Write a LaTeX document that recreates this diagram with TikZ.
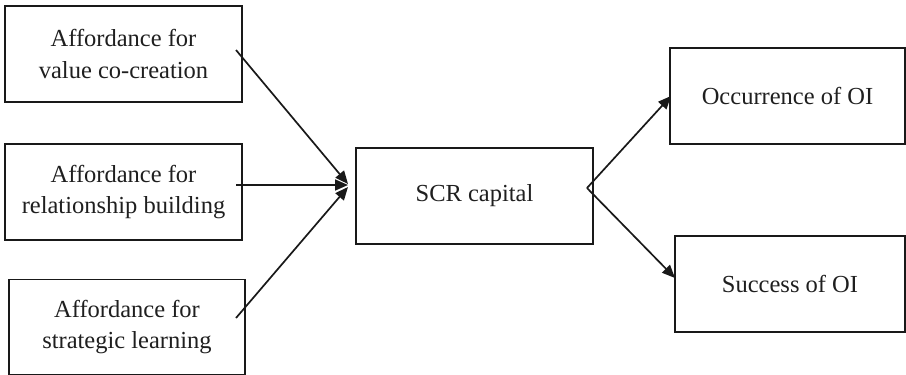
\documentclass[tikz,border=0pt]{standalone}
\usepackage{fontspec}
\setmainfont{Liberation Serif}
\usetikzlibrary{arrows.meta}
\begin{document}
\begin{tikzpicture}[x=1pt,y=-1pt,
  box/.style={draw=black!90,line width=1.7pt,rectangle,inner sep=0pt,align=center,
    font=\fontsize{24.5}{31.5}\selectfont,text=black!88},
  conn/.style={line width=1.7pt,draw=black!90,-{Triangle[length=13pt,width=11pt]}}]
\useasboundingbox (0,0) rectangle (906,375);
% left boxes
\node[box,minimum width=237pt,minimum height=96pt] (a1) at (123.5,54) {Affordance for\\value co-creation};
\node[box,minimum width=237pt,minimum height=96pt] (a2) at (123.5,192) {Affordance for\\relationship building};
\node[box,minimum width=236pt,minimum height=95pt] (a3) at (127,327) {Affordance for\\strategic learning};
% centre
\node[box,minimum width=237pt,minimum height=96pt] (scr) at (474.5,196) {SCR capital};
% right boxes
\node[box,minimum width=235pt,minimum height=96pt] (occ) at (787.5,96) {Occurrence of OI};
\node[box,minimum width=230pt,minimum height=96pt] (suc) at (790,284) {Success of OI};
% connector end points
\coordinate (s1) at (236,50);
\coordinate (s2) at (236,185);
\coordinate (s3) at (236,318);
\coordinate (t1) at (348,184);
\coordinate (t2) at (348,185);
\coordinate (t3) at (348,187);
\coordinate (fork) at (587,188);
\coordinate (to) at (671,96);
\coordinate (ts) at (675,278);
\draw[conn] (s1) -- (t1);
\draw[conn] (s2) -- (t2);
\draw[conn] (s3) -- (t3);
\draw[conn] (fork) -- (to);
\draw[conn] (fork) -- (ts);
\end{tikzpicture}
\end{document}
